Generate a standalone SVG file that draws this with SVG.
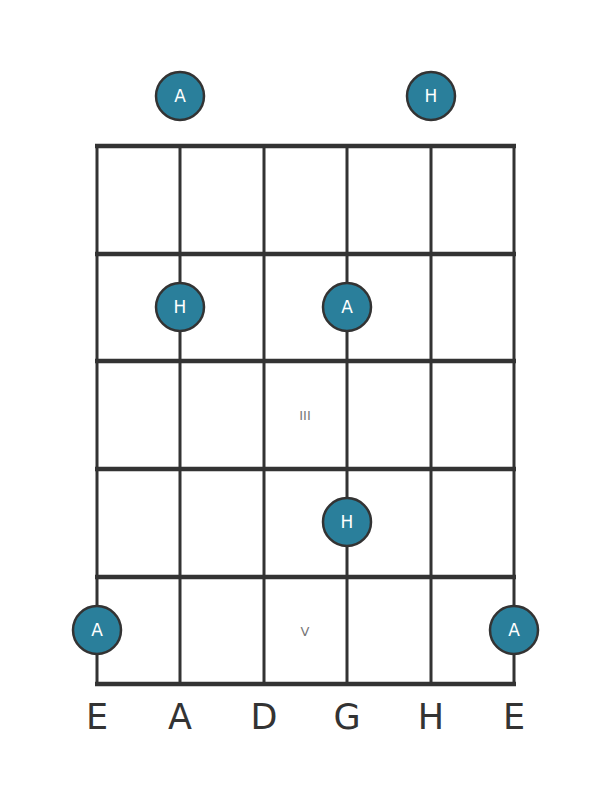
<svg xmlns="http://www.w3.org/2000/svg" width="611" height="801" viewBox="0 0 611 801">
<style>
.str{stroke:#333;stroke-width:3;}
.fret{stroke:#333;stroke-width:4.5;}
.dot{fill:#2a7f9b;stroke:#333;stroke-width:2.5;}
.dl{fill:#fff;font-family:"DejaVu Sans",sans-serif;font-size:17px;text-anchor:middle;dominant-baseline:central;}
.sl{fill:#333;font-family:"DejaVu Sans",sans-serif;font-size:35px;text-anchor:middle;}
.fn{fill:#777;font-family:"DejaVu Sans",sans-serif;font-size:13px;text-anchor:middle;dominant-baseline:central;}
</style>
<rect width="611" height="801" fill="#fff"/>
<g id="connectors">
<line class="str" x1="97" y1="146" x2="97" y2="684"/>
<line class="str" x1="180" y1="146" x2="180" y2="684"/>
<line class="str" x1="264" y1="146" x2="264" y2="684"/>
<line class="str" x1="347" y1="146" x2="347" y2="684"/>
<line class="str" x1="431" y1="146" x2="431" y2="684"/>
<line class="str" x1="514" y1="146" x2="514" y2="684"/>
<line class="fret" x1="95" y1="146" x2="516" y2="146"/>
<line class="fret" x1="95" y1="254" x2="516" y2="254"/>
<line class="fret" x1="95" y1="361" x2="516" y2="361"/>
<line class="fret" x1="95" y1="469" x2="516" y2="469"/>
<line class="fret" x1="95" y1="577" x2="516" y2="577"/>
<line class="fret" x1="95" y1="684" x2="516" y2="684"/>
</g>
<g id="fret-labels">
<text class="fn" x="305" y="415">III</text>
<text class="fn" x="305" y="631">V</text>
</g>
<g id="n1"><circle class="dot" cx="180" cy="96" r="24"/><text class="dl" x="180" y="96">A</text></g>
<g id="n2"><circle class="dot" cx="431" cy="96" r="24"/><text class="dl" x="431" y="96">H</text></g>
<g id="n3"><circle class="dot" cx="180" cy="307" r="24"/><text class="dl" x="180" y="307">H</text></g>
<g id="n4"><circle class="dot" cx="347" cy="307" r="24"/><text class="dl" x="347" y="307">A</text></g>
<g id="n5"><circle class="dot" cx="347" cy="522" r="24"/><text class="dl" x="347" y="522">H</text></g>
<g id="n6"><circle class="dot" cx="97" cy="630" r="24"/><text class="dl" x="97" y="630">A</text></g>
<g id="n7"><circle class="dot" cx="514" cy="630" r="24"/><text class="dl" x="514" y="630">A</text></g>
<g id="string-labels">
<text class="sl" x="97" y="729">E</text>
<text class="sl" x="180" y="729">A</text>
<text class="sl" x="264" y="729">D</text>
<text class="sl" x="347" y="729">G</text>
<text class="sl" x="431" y="729">H</text>
<text class="sl" x="514" y="729">E</text>
</g>
</svg>
